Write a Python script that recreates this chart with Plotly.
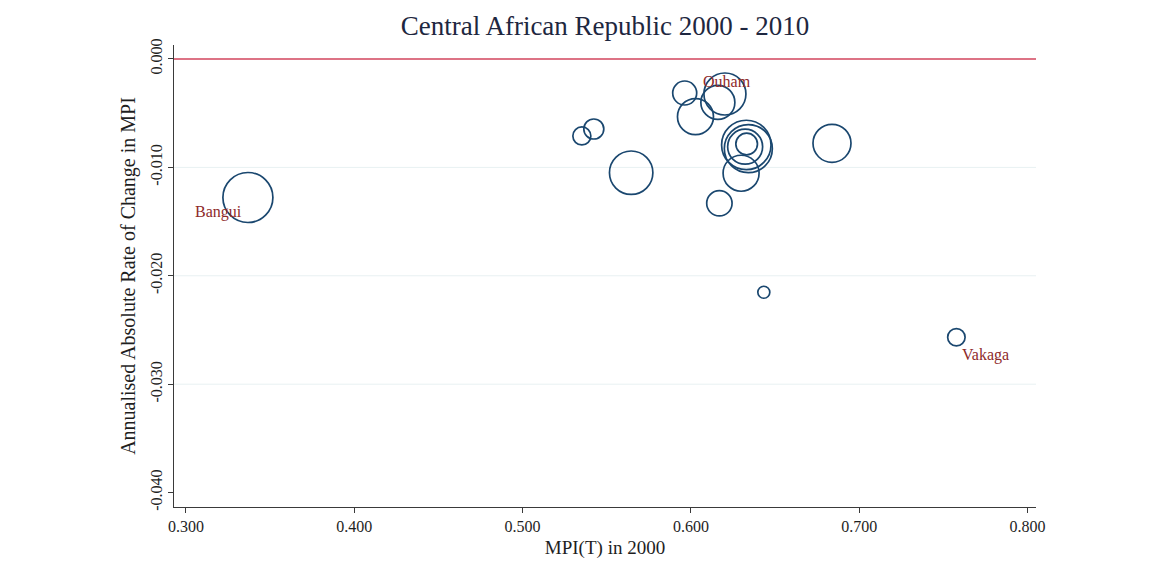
import plotly.graph_objects as go

# ---------------- data ----------------
mpi_2000 = [0.3368, 0.5963, 0.6202, 0.6160, 0.6027, 0.5352, 0.5423, 0.5645,
            0.6329, 0.6341, 0.6331, 0.6322, 0.6298, 0.6838, 0.6169, 0.6433, 0.7577]
annual_change = [-0.01278, -0.00314, -0.00323, -0.00401, -0.00532, -0.00710, -0.00646, -0.01049,
                 -0.00793, -0.00827, -0.00784, -0.00809, -0.01054, -0.00778, -0.01331, -0.02152, -0.02567]
population = [625, 144, 441, 289, 324, 81, 100, 471,
              610, 576, 117, 306, 324, 361, 161, 36, 76]   # marker weights (thousands)
region_label = ["Bangui", "", "Ouham", "", "", "", "", "",
                "", "", "", "", "", "", "", "", "Vakaga"]

x_ticks = [0.3, 0.4, 0.5, 0.6, 0.7, 0.8]
y_ticks = [0.0, -0.01, -0.02, -0.03, -0.04]
y_grid = [-0.01, -0.02, -0.03]

# label placement (pixel offsets) per labelled region
label_offset = {"Bangui": (-29, -14), "Ouham": (2, 13), "Vakaga": (29, -18)}

FONT = "Liberation Serif"
NAVY = "#1a476f"
AXIS = "#3a3a3a"

fig = go.Figure()

fig.add_trace(go.Scatter(
    x=mpi_2000, y=annual_change, mode="markers",
    marker=dict(size=population, sizemode="area", sizeref=0.5, opacity=1,
                color="rgba(255,255,255,0)", line=dict(color=NAVY, width=1.7)),
    hoverinfo="x+y",
))

for gy in y_grid:
    fig.add_shape(type="line", xref="paper", x0=0, x1=1, y0=gy, y1=gy,
                  line=dict(color="#e8f1f2", width=1), layer="below")

fig.add_shape(type="line", xref="paper", x0=0, x1=1, y0=0, y1=0,
              line=dict(color="#d2455c", width=1.6))

for xv, yv, name in zip(mpi_2000, annual_change, region_label):
    if name:
        dx, dy = label_offset[name]
        fig.add_annotation(x=xv, y=yv, text=name, showarrow=False,
                           xshift=dx, yshift=dy, xanchor="center", yanchor="middle",
                           font=dict(family=FONT, size=16, color="#8e2a2a"))

fig.update_layout(
    width=1151, height=575,
    margin=dict(l=166, r=123, t=37, b=76),
    plot_bgcolor="white", paper_bgcolor="white",
    showlegend=False,
    title=dict(text="Central African Republic 2000 - 2010", x=0.5, xref="paper",
               xanchor="center", y=1 - 18 / 575, yanchor="middle",
               font=dict(family=FONT, size=27, color="#1e2740")),
    font=dict(family=FONT, color="#1e1e1e"),
)

fig.update_xaxes(
    range=[0.2929, 0.805], tickvals=x_ticks, ticktext=[f"{v:.3f}" for v in x_ticks],
    showline=True, linecolor=AXIS, linewidth=1, mirror=False,
    ticks="outside", ticklen=5, tickcolor=AXIS, tickwidth=1,
    showgrid=False, zeroline=False,
    tickfont=dict(family=FONT, size=16, color="#1e1e1e"),
    title=dict(text="MPI(T) in 2000", standoff=6,
               font=dict(family=FONT, size=19, color="#1e1e1e")),
)

fig.update_yaxes(
    range=[-0.04133, 0.00129], tickvals=y_ticks,
    ticktext=[f"{v:.3f}" if v == 0 else f"-{abs(v):.3f}" for v in y_ticks],
    tickangle=-90,
    showline=True, linecolor=AXIS, linewidth=1,
    ticks="outside", ticklen=5, tickcolor=AXIS, tickwidth=1,
    showgrid=False, zeroline=False,
    tickfont=dict(family=FONT, size=16, color="#1e1e1e"),
    title=dict(text="Annualised Absolute Rate of Change in MPI", standoff=6,
               font=dict(family=FONT, size=20, color="#1e1e1e")),
)

fig.write_html("out.html")
